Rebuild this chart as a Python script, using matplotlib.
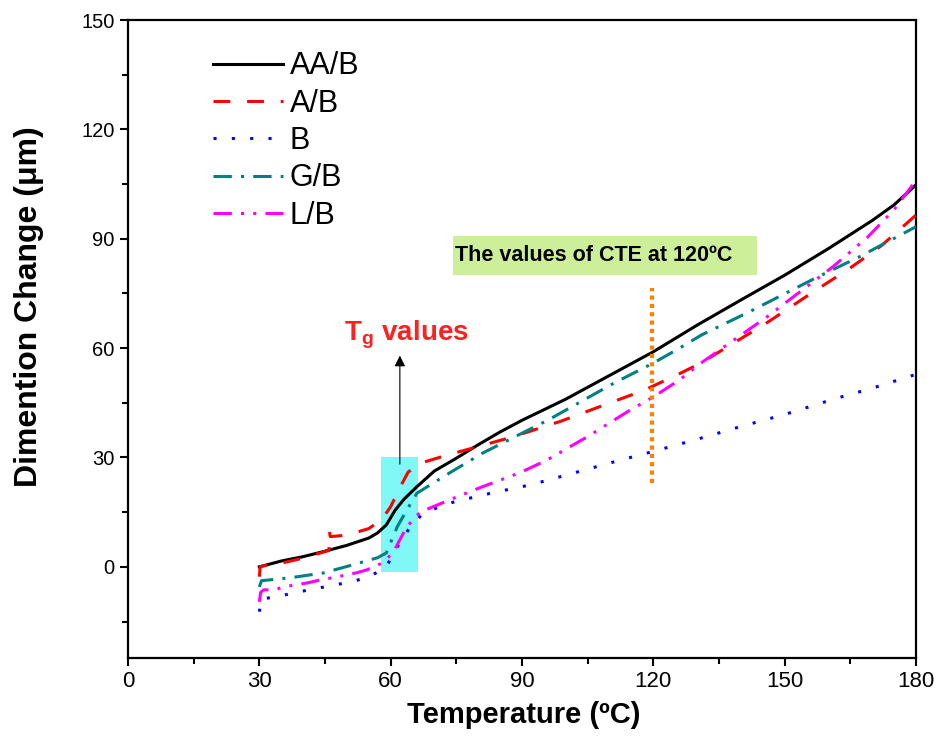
import matplotlib
matplotlib.use('Agg')
import matplotlib.pyplot as plt
from matplotlib.patches import Rectangle
from matplotlib.ticker import MultipleLocator

plt.rcParams['font.family'] = ['Liberation Sans', 'DejaVu Sans']
plt.rcParams['mathtext.fontset'] = 'custom'
plt.rcParams['mathtext.rm'] = 'Liberation Sans'
plt.rcParams['mathtext.bf'] = 'Liberation Sans:bold'

narrow = ['Liberation Sans Narrow', 'Liberation Sans', 'DejaVu Sans']

# datos (temperatura en C, cambio dimensional en um)
t_aab = [30, 35, 40, 45, 50, 55, 57, 59, 61, 63, 66, 70, 75, 80, 85, 90, 100,
         110, 120, 130, 140, 150, 160, 170, 175, 180]
v_aab = [0, 1.6, 2.8, 4.3, 5.9, 7.9, 9.3, 11.5, 15.5, 18.5, 22, 26.3, 29.8, 33.5,
         37, 40.2, 46, 52.5, 59, 66.3, 73.2, 80, 87.3, 95, 99.3, 104.8]

t_ab = [30, 30.2, 31, 35, 40, 45, 45.9, 46, 46.2, 50, 55, 58, 60, 62, 64, 67, 73,
        80, 88, 99, 107, 118, 126, 131, 146, 156, 165, 172, 180]
v_ab = [-2.7, 0, 0.3, 1.0, 2.4, 4.2, 4.5, 9.8, 8.3, 8.7, 10.5, 13, 16.5, 21.5, 26,
        28.5, 30.7, 33, 35.7, 40, 43.6, 48.5, 53, 56, 67, 75, 82, 88, 96.5]

t_b = [30, 30.5, 34, 38, 44, 51, 55, 59, 61.5, 64.5, 67.5, 73.5, 81, 86, 92, 102,
       111, 121, 130, 140, 150, 162, 170, 180]
v_b = [-12.3, -8.8, -8.2, -7.1, -5.7, -4.1, -2.8, 0, 5.5, 11, 14.8, 17.5, 19.7, 21,
       22.5, 25.8, 28.8, 32, 35, 38.5, 41.8, 46.3, 49, 52.8]

t_gb = [30, 30.5, 37, 44.5, 51.5, 57, 59, 61.5, 63.7, 66, 73.5, 81, 96, 111, 120,
        126, 131, 142, 157, 167, 180]
v_gb = [-5.5, -3.8, -3, -1.7, 0.6, 2.5, 3.8, 11, 15.6, 20.2, 25.8, 31.2, 40.3, 50.4,
        55.9, 60, 63.6, 70, 79.2, 85, 93.3]

t_lb = [30, 30.3, 31, 33.6, 35.4, 38.6, 41, 43.9, 48, 52.3, 54.6, 58, 60.5, 63.7,
        66.7, 73.5, 81, 89.5, 95.7, 104.8, 114.7, 120, 126, 131, 146, 161, 169, 175, 180]
v_lb = [-9.6, -7, -6.3, -6.3, -5.5, -4.9, -4.4, -3.6, -2.7, -1.6, -0.8, 1, 3.8, 11,
        15, 18.4, 22, 25.8, 29.3, 35.6, 43, 46.6, 51.3, 56, 68.6, 82.3, 90.5, 98, 106]

fig = plt.figure(figsize=(9.38, 7.55), dpi=100)
ax = fig.add_axes([128 / 938, 97 / 755, 788 / 938, 638 / 755])

# zona de Tg
ax.add_patch(Rectangle((57.8, -1.3), 8.4, 31.5, facecolor='#80F8F8',
                       edgecolor='none', zorder=1))

ax.plot(t_aab, v_aab, color='black', lw=2.2, label='AA/B', zorder=3)
ax.plot(t_ab, v_ab, color='red', lw=2.2, dashes=(5.5, 5.5), label='A/B', zorder=3)
ax.plot(t_b, v_b, color='blue', lw=2.2, dashes=(1, 5), label='B', zorder=3)
ax.plot(t_gb, v_gb, color='teal', lw=2.2, dashes=(6, 3, 1, 3), label='G/B', zorder=3)
ax.plot(t_lb, v_lb, color='magenta', lw=2.2, dashes=(6, 3, 1, 3, 1, 3),
        label='L/B', zorder=3)

# flecha y texto Tg
ax.annotate('', xy=(62.1, 58.7), xytext=(62.1, 27.4),
            arrowprops=dict(arrowstyle='-|>', color='black', lw=0.8,
                            mutation_scale=16), zorder=4)
ax.text(49.3, 62.2, r'$\mathbf{T_g}$ values', color='#FF2020', fontsize=20,
        fontweight='bold', va='baseline', ha='left')

# linea CTE a 120 C
ax.plot([119.7, 119.7], [23, 76.5], color='#FF8000', lw=3,
        linestyle=(0, (1, 1)), zorder=4)
ax.add_patch(Rectangle((74.2, 80), 69.5, 10.8, facecolor='#CDEF9A',
                       edgecolor='none', zorder=2))
ax.text(74.7, 85.4, 'The values of CTE at 120ºC', fontsize=15.5, fontweight='bold',
        va='center', ha='left', zorder=5)

ax.set_xlim(0, 180)
ax.set_ylim(-25, 150)
ax.xaxis.set_major_locator(MultipleLocator(30))
ax.xaxis.set_minor_locator(MultipleLocator(15))
ax.yaxis.set_major_locator(MultipleLocator(30))
ax.yaxis.set_minor_locator(MultipleLocator(15))

for s in ax.spines.values():
    s.set_linewidth(1.6)
ax.tick_params(which='major', direction='out', length=6, width=1.5)
ax.tick_params(which='minor', direction='out', length=4, width=1.5)
ax.tick_params(axis='y', labelsize=14.5)
ax.tick_params(axis='x', labelsize=16)
for lab in ax.get_xticklabels():
    lab.set_family(narrow)

fig.text(29 / 938, 1 - 307 / 755, 'Dimention Change (μm)', rotation=90,
         ha='center', va='center', fontsize=23, fontweight='bold', family=narrow)
fig.text(524 / 938, 1 - 715 / 755, 'Temperature (ºC)', ha='center', va='center',
         fontsize=21, fontweight='bold', family=narrow)

ax.legend(loc='upper left', bbox_to_anchor=(0.108, 0.951), frameon=False,
          fontsize=22, borderpad=0, borderaxespad=0, handlelength=2.3,
          handletextpad=0.2, labelspacing=0.24)

fig.savefig('out.png', dpi=100)
